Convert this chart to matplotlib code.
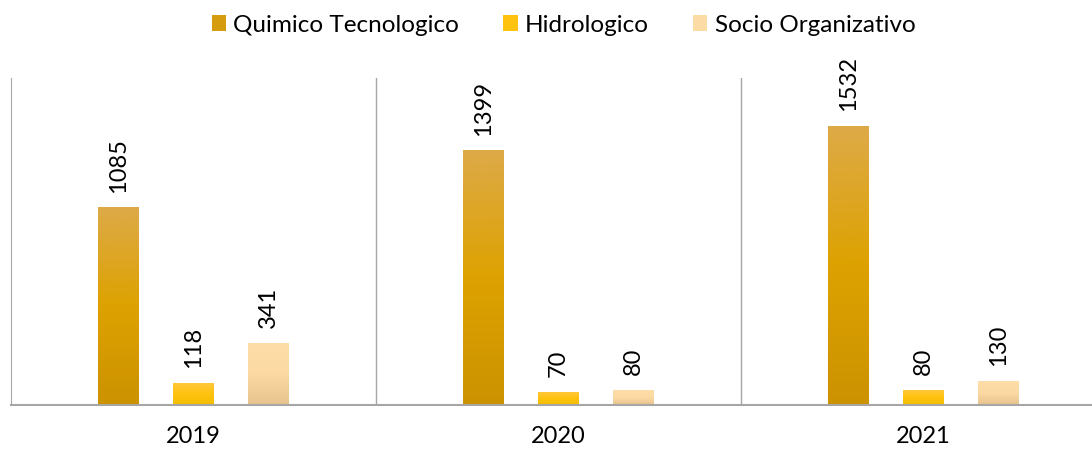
import numpy as np
import matplotlib
matplotlib.use('Agg')
from matplotlib import pyplot as plt
from matplotlib.patches import Patch
from matplotlib.colors import LinearSegmentedColormap

years = ['2019', '2020', '2021']
series = ['Quimico Tecnologico', 'Hidrologico', 'Socio Organizativo']
quimico = [1085, 1399, 1532]
hidrologico = [118, 70, 80]
socio = [341, 80, 130]

# gradient colours (top, middle, bottom) per series
grads = [['#DDAA48', '#DDA200', '#CC9200'],
         ['#FFC83A', '#FFC20E', '#F2BE00'],
         ['#FEDDA8', '#FCD9A2', '#E6C38C']]
solid = ['#D69C10', '#FFC20E', '#FCDBA5']

plt.rcParams['font.family'] = ['Lato', 'DejaVu Sans']

fig = plt.figure(figsize=(10.92, 4.49), dpi=100)
ax = fig.add_axes([11/1092, 1 - 405/449, 1 - 11/1092, (405 - 78)/449])

x = np.arange(len(years))
width = 0.112
offsets = [-0.205, 0, 0.205]
grad = np.linspace(1, 0, 256).reshape(-1, 1)

for vals, off, g in zip([quimico, hidrologico, socio], offsets, grads):
  cmap = LinearSegmentedColormap.from_list('g', [g[2], g[1], g[0]])
  bars = ax.bar(x + off, vals, width, color='none', edgecolor='none')
  for b, v in zip(bars, vals):
    x0 = b.get_x()
    ax.imshow(grad, extent=[x0, x0 + width, 0, v], aspect='auto', cmap=cmap,
              vmin=0, vmax=1, zorder=2)
    ax.annotate(str(v), (x0 + width/2, v), xytext=(0, 11), textcoords='offset points',
                rotation=90, ha='center', va='bottom', fontsize=17)

ax.set_xlim(-0.5, 2.462)
ax.set_ylim(0, 1800)
for sx in [0.5, 1.5]:
  ax.axvline(sx, color='#A6A6A6', lw=1, zorder=1)

ax.set_xticks(x)
ax.set_xticklabels(years, fontsize=17)
ax.tick_params(axis='x', length=0, pad=15)
ax.set_yticks([])
for s in ['top', 'right']:
  ax.spines[s].set_visible(False)
ax.spines['left'].set_color('#A6A6A6')
ax.spines['bottom'].set_color('#A6A6A6')
ax.spines['bottom'].set_linewidth(1.5)

handles = [Patch(facecolor=c, edgecolor='none') for c in solid]
fig.legend(handles, series, loc='center', bbox_to_anchor=(0.516, 0.944), ncol=3,
           frameon=False, fontsize=17.5, handlelength=0.6, handleheight=0.6,
           handletextpad=0.3, columnspacing=1.8)

fig.savefig('out.png', dpi=100)
